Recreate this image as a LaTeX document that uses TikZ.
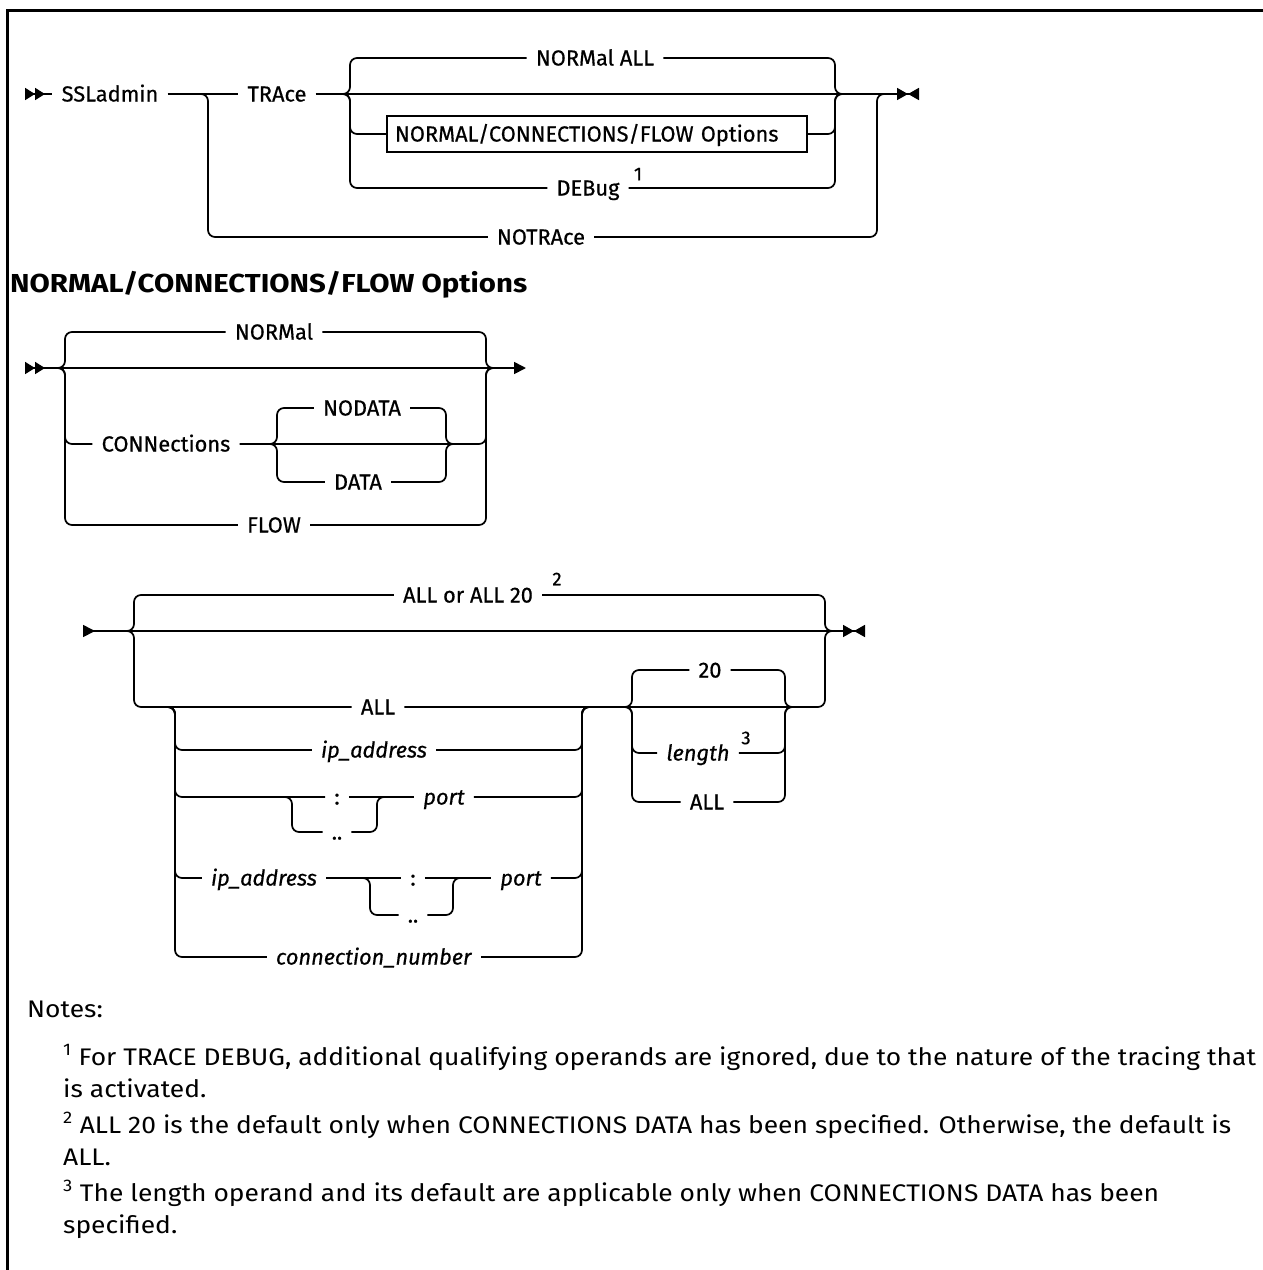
\documentclass[tikz,border=0pt]{standalone}
\usepackage{fontspec}
\setmainfont{Fira Sans}
\newfontfamily\railfont[FakeBold=0.6]{Fira Sans}
\newfontfamily\notefont[FakeStretch=1.1]{Fira Sans}
\usetikzlibrary{arrows.meta,positioning}
\tikzset{
  ent/.tip={Triangle[reversed,length=10pt,width=12pt,sep=0pt]Triangle[reversed,length=10pt,width=12pt,sep=0pt]},
  ent1/.tip={Triangle[reversed,length=12pt,width=12pt,sep=0pt]},
  fin/.tip={Triangle[length=11pt,width=12pt,sep=0pt]Triangle[reversed,length=11pt,width=12pt,sep=0pt]},
  go/.tip={Triangle[length=12pt,width=12pt,sep=0pt]}
}

\begin{document}
\begin{tikzpicture}[
    x=1pt, y=-1pt,
    font=\railfont\fontsize{21.8}{24}\selectfont,
    rail/.style={line width=1.7pt, rounded corners=7pt},
    lbl/.style={inner xsep=9pt, inner ysep=0pt, text height=15pt, text depth=0pt},
    optbox/.style={draw, line width=1.5pt, text width=404pt, align=left, inner xsep=8pt,
      minimum height=36pt, text height=15pt, text depth=0pt},
    fnmark/.style={font=\railfont\fontsize{18.5}{20}\selectfont, inner sep=0pt},
    heading/.style={font=\notefont\addfontfeature{FakeStretch=1.13}\bfseries\fontsize{26}{28}\selectfont,
      anchor=base west, inner sep=0pt},
    notetext/.style={font=\notefont\fontsize{24}{32}\selectfont, align=left, anchor=base west, inner sep=0pt}
  ]
    \useasboundingbox (0,0) rectangle (1262,1270);
    \coordinate (framebl) at (7.5,1275);
    \coordinate (frametl) at (7.5,10.5);
    \coordinate (frametr) at (1265,10.5);
    \draw[line width=2.6pt] (framebl) -- (frametl) -- (frametr);

    \coordinate (d1start) at (25,94);
    \coordinate (d1end) at (919,94);
    \coordinate (f1a) at (200,94);
    \coordinate (k1l) at (208,94);
    \coordinate (k1r) at (877,94);
    \coordinate (f1b) at (885,94);
    \coordinate (f2a) at (343,94);
    \coordinate (k2l) at (350,94);
    \coordinate (k2r) at (835,94);
    \coordinate (f2b) at (842,94);
    \node[lbl] (ssl) at (110,94) {SSLadmin};
    \node[lbl] (trace) at (277,94) {TRAce};
    \node[lbl] (normall) at (595,58) {NORMal ALL};
    \node[optbox] (optref) at (597,134) {NORMAL/CONNECTIONS/FLOW Options};
    \node[lbl] (debug) at (588,188) {DEBug};
    \node[fnmark] (fn1) at (638,174) {1};
    \node[lbl] (notrace) at (541,237) {NOTRAce};

    \draw[rail, ent-] (d1start) -- (ssl);
    \draw[rail] (ssl) -- (trace);
    \draw[rail, -fin] (trace) -- (d1end);
    \draw[rail] (f2a) -| (k2l |- normall) -- (normall);
    \draw[rail] (normall) -| (k2r) -- (f2b);
    \draw[rail] (f2a) -| (k2l |- optref) -- (optref);
    \draw[rail] (optref) -| (k2r) -- (f2b);
    \draw[rail] (f2a) -| (k2l |- debug) -- (debug);
    \draw[rail] (debug) -| (k2r) -- (f2b);
    \draw[rail] (f1a) -| (k1l |- notrace) -- (notrace);
    \draw[rail] (notrace) -| (k1r) -- (f1b);

    \node[heading] (opthead) at (10,292) {NORMAL/CONNECTIONS/FLOW Options};

    \coordinate (d2start) at (25,368);
    \coordinate (d2end) at (526,368);
    \coordinate (f3a) at (57,368);
    \coordinate (k3l) at (65,368);
    \coordinate (k3r) at (486,368);
    \coordinate (f3b) at (494,368);
    \coordinate (f4a) at (270,444);
    \coordinate (k4l) at (277,444);
    \coordinate (k4r) at (446,444);
    \coordinate (f4b) at (453,444);
    \node[lbl] (normal) at (274,332) {NORMal};
    \node[lbl] (conn) at (166,444) {CONNections};
    \node[lbl] (nodata) at (362,408) {NODATA};
    \node[lbl] (data) at (358,482) {DATA};
    \node[lbl] (flow) at (274,525) {FLOW};

    \draw[rail, ent-go] (d2start) -- (d2end);
    \draw[rail] (f3a) -| (k3l |- normal) -- (normal);
    \draw[rail] (normal) -| (k3r) -- (f3b);
    \draw[rail] (f3a) -| (k3l |- conn) -- (conn);
    \draw[rail] (conn) -| (k3r) -- (f3b);
    \draw[rail] (f4a) -| (k4l |- nodata) -- (nodata);
    \draw[rail] (nodata) -| (k4r) -- (f4b);
    \draw[rail] (f4a) -| (k4l |- data) -- (data);
    \draw[rail] (data) -| (k4r) -- (f4b);
    \draw[rail] (f3a) -| (k3l |- flow) -- (flow);
    \draw[rail] (flow) -| (k3r) -- (f3b);

    \coordinate (d3start) at (83,631);
    \coordinate (d3end) at (865,631);
    \coordinate (f5a) at (126,631);
    \coordinate (k5l) at (134,631);
    \coordinate (k5r) at (825,631);
    \coordinate (f5b) at (833,631);
    \coordinate (f6a) at (168,707);
    \coordinate (k6l) at (175,707);
    \coordinate (k6r) at (582,707);
    \coordinate (f6b) at (590,707);
    \coordinate (f7a) at (625,707);
    \coordinate (k7l) at (632,707);
    \coordinate (k7r) at (785,707);
    \coordinate (f7b) at (792,707);
    \coordinate (f8a) at (287,797);
    \coordinate (k8l) at (292,797);
    \coordinate (k8r) at (377,797);
    \coordinate (f8b) at (383,797);
    \coordinate (f9a) at (365,878);
    \coordinate (k9l) at (370,878);
    \coordinate (k9r) at (453,878);
    \coordinate (f9b) at (459,878);
    \node[lbl] (allor) at (468,595) {ALL or ALL 20};
    \node[fnmark] (fn2) at (557,579) {2};
    \node[lbl] (allrow) at (378,707) {ALL};
    \node[lbl] (ipaddr) at (374,750) {\textit{ip\_address}};
    \node[lbl] (colA) at (337,797) {:};
    \node[lbl] (dotsA) at (337,832) {..};
    \node[lbl] (portA) at (444,797) {\textit{port}};
    \node[lbl] (ipaddrB) at (264,878) {\textit{ip\_address}};
    \node[lbl] (colB) at (413,878) {:};
    \node[lbl] (dotsB) at (413,915) {..};
    \node[lbl] (portB) at (521,878) {\textit{port}};
    \node[lbl] (connnum) at (374,957) {\textit{connection\_number}};
    \node[lbl] (twenty) at (710,670) {20};
    \node[lbl] (len) at (698,753) {\textit{length}};
    \node[fnmark] (fn3) at (746,738) {3};
    \node[lbl] (allB) at (707,802) {ALL};

    \draw[rail, ent1-fin] (d3start) -- (d3end);
    \draw[rail] (f5a) -| (k5l |- allor) -- (allor);
    \draw[rail] (allor) -| (k5r) -- (f5b);
    \draw[rail] (f5a) -| (k5l |- allrow) -- (allrow);
    \draw[rail] (allrow) -| (k5r) -- (f5b);
    \draw[rail] (f6a) -| (k6l |- ipaddr) -- (ipaddr);
    \draw[rail] (ipaddr) -| (k6r) -- (f6b);
    \draw[rail] (f6a) -| (k6l |- colA) -- (colA);
    \draw[rail] (colA) -- (portA);
    \draw[rail] (portA) -| (k6r) -- (f6b);
    \draw[rail] (f8a) -| (k8l |- dotsA) -- (dotsA);
    \draw[rail] (dotsA) -| (k8r) -- (f8b);
    \draw[rail] (f6a) -| (k6l |- ipaddrB) -- (ipaddrB);
    \draw[rail] (ipaddrB) -- (colB);
    \draw[rail] (colB) -- (portB);
    \draw[rail] (portB) -| (k6r) -- (f6b);
    \draw[rail] (f9a) -| (k9l |- dotsB) -- (dotsB);
    \draw[rail] (dotsB) -| (k9r) -- (f9b);
    \draw[rail] (f6a) -| (k6l |- connnum) -- (connnum);
    \draw[rail] (connnum) -| (k6r) -- (f6b);
    \draw[rail] (f7a) -| (k7l |- twenty) -- (twenty);
    \draw[rail] (twenty) -| (k7r) -- (f7b);
    \draw[rail] (f7a) -| (k7l |- len) -- (len);
    \draw[rail] (len) -| (k7r) -- (f7b);
    \draw[rail] (f7a) -| (k7l |- allB) -- (allB);
    \draw[rail] (allB) -| (k7r) -- (f7b);

    \node[notetext] (notes) at (27,1017) {Notes:};
    \node[notetext] (note1) at (63,1097) {\textsuperscript{1} For TRACE DEBUG, additional qualifying operands are ignored, due to the nature of the tracing that\\is activated.};
    \node[notetext] (note2) at (63,1165) {\textsuperscript{2} ALL 20 is the default only when CONNECTIONS DATA has been specified. Otherwise, the default is\\ALL.};
    \node[notetext] (note3) at (63,1233) {\textsuperscript{3} The length operand and its default are applicable only when CONNECTIONS DATA has been\\specified.};
  \end{tikzpicture}
\end{document}
